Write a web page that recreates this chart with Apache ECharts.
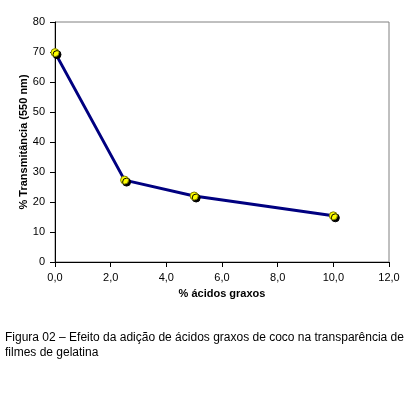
<!DOCTYPE html>
<html>
<head>
<meta charset="utf-8">
<script src="https://cdn.jsdelivr.net/npm/echarts@6/dist/echarts.min.js"></script>
<style>
  html, body { margin: 0; padding: 0; background: #fff; }
  #chart { width: 414px; height: 396px; }
</style>
</head>
<body>
<div id="chart"></div>
<script>
// data
var acidos = [0, 2.5, 5, 10];
var transmitancia = [69.8, 27.3, 22, 15.4];
var xName = '% ácidos graxos';
var yName = '% Transmitância (550 nm)';
var captionLines = [
    'Figura 02 – Efeito da adição de ácidos graxos de coco na transparência de',
    'filmes de gelatina'
];

var chart = echarts.init(document.getElementById('chart'));

var points = acidos.map(function (x, i) { return [x, transmitancia[i]]; });

var option = {
    backgroundColor: '#fff',
    animation: false,
    textStyle: { fontFamily: 'Liberation Sans, Arial, sans-serif' },
    grid: {
        left: 55, top: 22, width: 334, height: 240,
        show: true, borderColor: '#808080', borderWidth: 1
    },
    xAxis: {
        type: 'value', min: 0, max: 12, interval: 2,
        name: xName, nameLocation: 'middle', nameGap: 26, nameMoveOverlap: false,
        nameTextStyle: { fontWeight: 'bold', fontSize: 11, color: '#000' },
        axisLine: { lineStyle: { color: '#000' } },
        axisTick: { show: true, length: 5, lineStyle: { color: '#000' } },
        axisLabel: {
            fontSize: 11, color: '#000', margin: 10,
            formatter: function (v) { return v.toFixed(1).replace('.', ','); }
        },
        splitLine: { show: false }
    },
    yAxis: {
        type: 'value', min: 0, max: 80, interval: 10,
        name: yName, nameLocation: 'middle', nameGap: 26, nameMoveOverlap: false,
        nameTextStyle: { fontWeight: 'bold', fontSize: 11, color: '#000' },
        axisLine: { show: true, lineStyle: { color: '#000' } },
        axisTick: { show: true, length: 5, lineStyle: { color: '#000' } },
        axisLabel: { fontSize: 11, color: '#000', margin: 10 },
        splitLine: { show: false }
    },
    series: [{
        type: 'line',
        data: points,
        symbol: 'circle',
        symbolSize: 8,
        lineStyle: { color: '#000080', width: 3 },
        itemStyle: {
            color: '#ffff00', borderColor: '#808000', borderWidth: 1,
            shadowColor: '#000', shadowBlur: 0, shadowOffsetX: 2, shadowOffsetY: 2
        }
    }],
    graphic: captionLines.map(function (t, i) {
        return {
            type: 'text', left: 5, top: 332 + i * 15,
            style: { text: t, fontSize: 12, fill: '#000', fontFamily: 'Liberation Sans Narrow, Liberation Sans, Arial' }
        };
    })
};

chart.setOption(option);
</script>
</body>
</html>
